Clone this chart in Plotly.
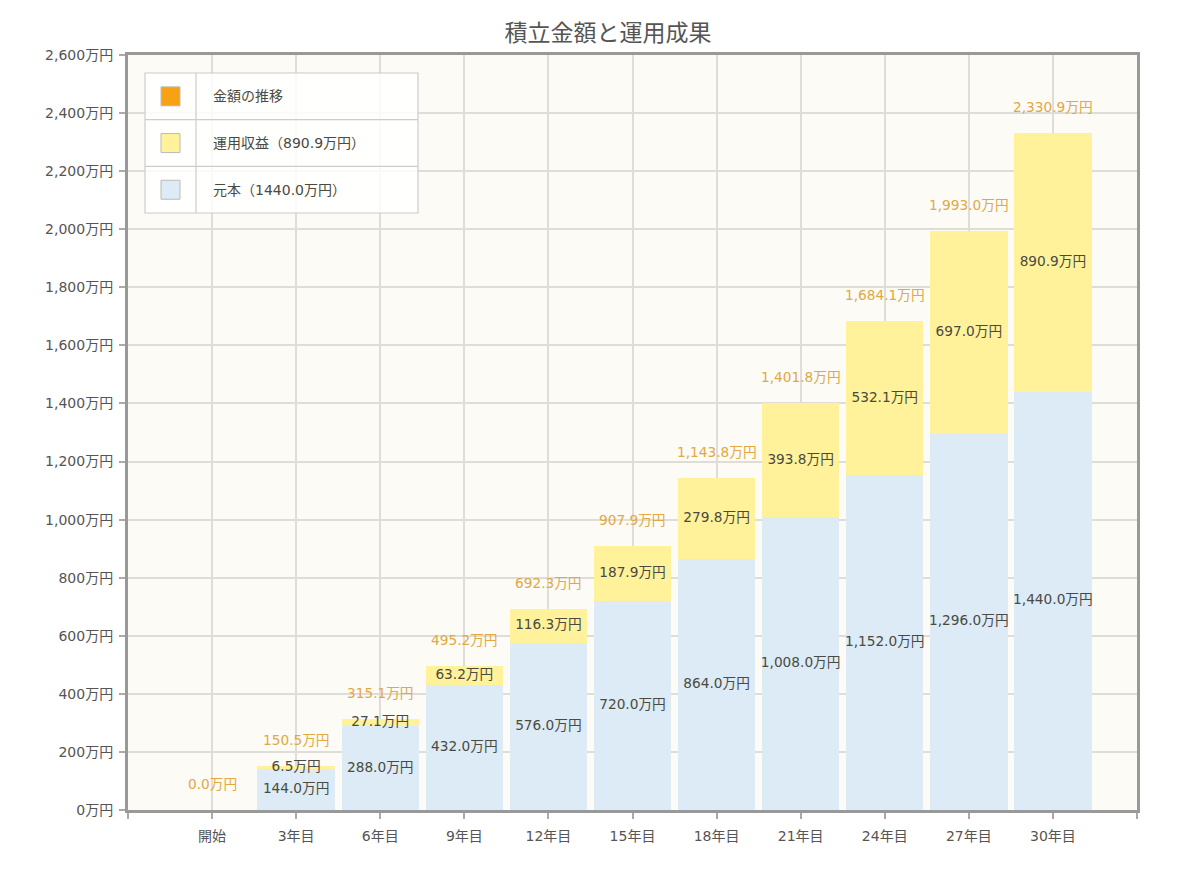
import plotly.graph_objects as go

categories = ["開始", "3年目", "6年目", "9年目", "12年目", "15年目",
              "18年目", "21年目", "24年目", "27年目", "30年目"]
principal = [0, 144.0, 288.0, 432.0, 576.0, 720.0, 864.0, 1008.0, 1152.0, 1296.0, 1440.0]
returns = [0, 6.5, 27.1, 63.2, 116.3, 187.9, 279.8, 393.8, 532.1, 697.0, 890.9]
totals = [0.0, 150.5, 315.1, 495.2, 692.3, 907.9, 1143.8, 1401.8, 1684.1, 1993.0, 2330.9]
legend_names = ["金額の推移", "運用収益（890.9万円）", "元本（1440.0万円）"]

FONT = "DejaVu Sans, Noto Sans CJK JP, sans-serif"
BLUE = "#dcebf5"
YELLOW = "#fff29a"
ORANGE = "#f7a114"
LABEL_ORANGE = "#e2a844"
TEXT = "#4a4a42"

xs = list(range(len(categories)))


def fmt(v):
    return f"{v:,.1f}万円"


fig = go.Figure()

fig.add_trace(go.Bar(x=xs, y=principal, marker=dict(color=BLUE, line=dict(width=0)),
                     width=0.92, name=legend_names[2], showlegend=False))
fig.add_trace(go.Bar(x=xs, y=returns, marker=dict(color=YELLOW, line=dict(width=0)),
                     width=0.92, name=legend_names[1], showlegend=False))

# labels centred in each segment
fig.add_trace(go.Scatter(
    x=xs, y=[p / 2 for p in principal], mode="text",
    text=[fmt(p) if p else "" for p in principal],
    textfont=dict(family=FONT, size=13.7, color=TEXT), showlegend=False, hoverinfo="skip"))
fig.add_trace(go.Scatter(
    x=xs, y=[p + r / 2 for p, r in zip(principal, returns)], mode="text",
    text=[fmt(r) if r else "" for r in returns],
    textfont=dict(family=FONT, size=13.7, color=TEXT), showlegend=False, hoverinfo="skip"))

# totals above the bars
for x, t in zip(xs, totals):
    fig.add_annotation(x=x, y=t, text=fmt(t), showarrow=False, yshift=26,
                       font=dict(family=FONT, size=13.7, color=LABEL_ORANGE))

# legend drawn as a small table (coordinates measured in screen pixels)
L, R, T, B = 128, 1137, 55, 810


def px(x):
    return (x - L) / (R - L)


def py(y):
    return (B - y) / (B - T)


fig.add_shape(type="rect", xref="paper", yref="paper", x0=px(145), x1=px(418),
              y0=py(213), y1=py(73), fillcolor="rgba(255,255,254,0.85)",
              line=dict(color="#cccccc", width=1.2))
fig.add_shape(type="line", xref="paper", yref="paper", x0=px(196), x1=px(196),
              y0=py(213), y1=py(73), line=dict(color="#cccccc", width=1.2))
row_top = 73
row_h = 46.7
colors = [ORANGE, YELLOW, BLUE]
for i, (name, c) in enumerate(zip(legend_names, colors)):
    top = row_top + i * row_h
    mid = top + row_h / 2
    if i > 0:
        fig.add_shape(type="line", xref="paper", yref="paper", x0=px(145), x1=px(418),
                      y0=py(top), y1=py(top), line=dict(color="#cccccc", width=1.2))
    fig.add_shape(type="rect", xref="paper", yref="paper", x0=px(161), x1=px(180),
                  y0=py(mid + 9.5), y1=py(mid - 9.5), fillcolor=c,
                  line=dict(color="#bbbbbb", width=1))
    fig.add_annotation(xref="paper", yref="paper", x=px(211), y=py(mid), text=name,
                       showarrow=False, xanchor="left", yanchor="middle",
                       font=dict(family=FONT, size=14, color=TEXT))

# page is drawn 8px in from the window corner
OFF = 8
fig.update_layout(
    width=1200, height=876,
    barmode="stack", bargap=0,
    paper_bgcolor="white", plot_bgcolor="#fcfbf5",
    margin=dict(l=L - OFF, r=1200 - R + OFF, t=T - OFF, b=876 - B + OFF),
    title=dict(text="積立金額と運用成果", x=0.5, xanchor="center",
               y=1 - (33 - OFF) / 876, yanchor="middle",
               font=dict(family=FONT, size=23, color="#555555")),
    font=dict(family=FONT, size=14, color="#555555"),
    showlegend=False,
)
fig.update_xaxes(
    range=[-1, len(categories)],
    tickvals=list(range(-1, len(categories) + 1)),
    ticktext=[""] + categories + [""],
    showgrid=True, gridcolor="#dfddd8", gridwidth=1.5,
    showline=True, linecolor="#999999", linewidth=3, mirror=True,
    ticks="outside", ticklen=6, tickcolor="#aaaaaa", tickwidth=1.5,
    ticklabelstandoff=5,
    tickfont=dict(family=FONT, size=14, color="#555555"),
    zeroline=False,
)
fig.update_yaxes(
    range=[0, 2600], dtick=200, tickformat=",", ticksuffix="万円",
    showgrid=True, gridcolor="#dfddd8", gridwidth=1.5,
    showline=True, linecolor="#999999", linewidth=3, mirror=True,
    ticks="outside", ticklen=6, tickcolor="#aaaaaa", tickwidth=1.5,
    ticklabelstandoff=3,
    tickfont=dict(family=FONT, size=14, color="#555555"),
    zeroline=False,
)

fig.write_html("out.html")
